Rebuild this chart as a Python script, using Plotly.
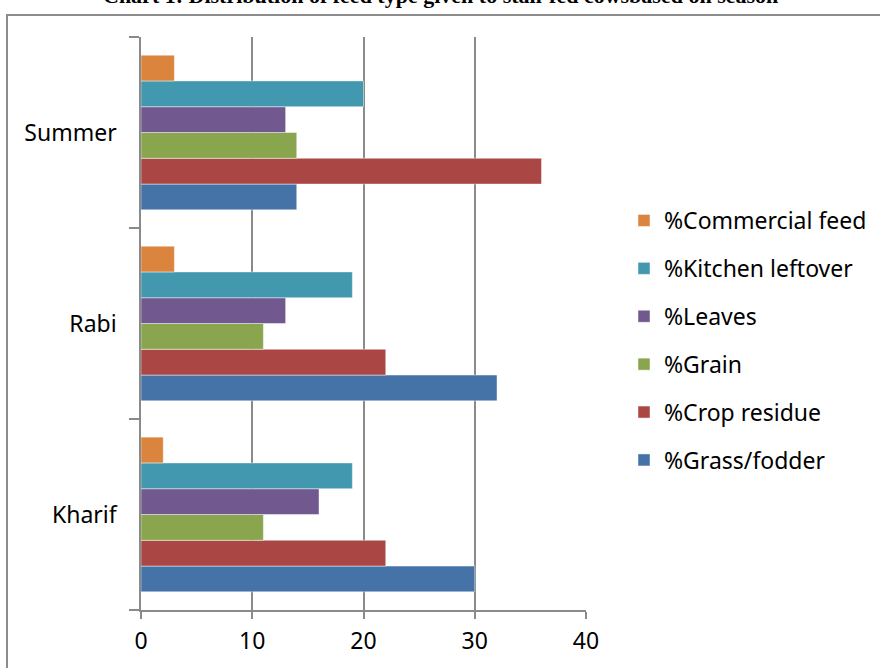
import plotly.graph_objects as go

# Seasons (bottom to top on the category axis)
seasons = ["Kharif", "Rabi", "Summer"]

# Share of each feed type per season (%)
grass_fodder = [30, 32, 14]
crop_residue = [22, 22, 36]
grain = [11, 11, 14]
leaves = [16, 13, 13]
kitchen_leftover = [19, 19, 20]
commercial_feed = [2, 3, 3]

# name, values, colour, legend rank (top of legend first)
series = [
    ("%Grass/fodder", grass_fodder, "#4572A7", 6),
    ("%Crop residue", crop_residue, "#AA4643", 5),
    ("%Grain", grain, "#89A54E", 4),
    ("%Leaves", leaves, "#71588F", 3),
    ("%Kitchen leftover", kitchen_leftover, "#4198AF", 2),
    ("%Commercial feed", commercial_feed, "#DB843D", 1),
]

x_ticks = [0, 10, 20, 30, 40]

W, H = 880, 668
L, R, T, B = 141, 294, 37, 58
PW, PH = W - L - R, H - T - B


def px_x(px):
    return (px - L) / PW


def px_y(py):
    return (H - B - py) / PH


fig = go.Figure()
for name, vals, color, rank in series:
    fig.add_trace(go.Bar(
        y=seasons, x=vals, name=name, orientation="h",
        marker=dict(color=color, line=dict(color="rgba(255,255,255,0.45)", width=1)),
        legendgroup=name, legendrank=rank,
    ))

grid = "#8a8a8a"
font_family = "Noto Sans, Open Sans, DejaVu Sans, sans-serif"

fig.update_layout(
    width=W, height=H,
    margin=dict(l=L, r=R, t=T, b=B, autoexpand=False),
    paper_bgcolor="white", plot_bgcolor="white",
    barmode="group", bargap=0.19, bargroupgap=0,
    font=dict(family=font_family, size=23, color="#000000"),
    showlegend=True,
    legend=dict(
        traceorder="grouped", tracegroupgap=15,
        x=px_x(624), xanchor="left", y=px_y(199), yanchor="top",
        font=dict(family=font_family, size=23, color="#000000"),
        bgcolor="rgba(0,0,0,0)",
    ),
    xaxis=dict(
        range=[0, 40], tickvals=x_ticks, ticktext=[str(v) for v in x_ticks],
        showgrid=True, gridcolor=grid, gridwidth=1.5,
        showline=True, linecolor=grid, linewidth=1.5,
        ticks="outside", ticklen=7, tickcolor=grid, tickwidth=1.5,
        ticklabelstandoff=3, zeroline=False, fixedrange=True,
    ),
    yaxis=dict(
        categoryorder="array", categoryarray=seasons,
        showgrid=False, showline=True, linecolor=grid, linewidth=1.5,
        ticks="outside", tickson="boundaries", ticklen=10, tickcolor=grid, tickwidth=1.5,
        ticklabelstandoff=18, zeroline=False, fixedrange=True,
    ),
)

# Outer chart frame
fig.add_shape(
    type="rect", xref="paper", yref="paper",
    x0=px_x(7), x1=px_x(900), y0=px_y(700), y1=px_y(15),
    line=dict(color="#8c8c8c", width=2), fillcolor="rgba(0,0,0,0)", layer="below",
)

# Caption running above the frame
fig.add_annotation(
    xref="paper", yref="paper", x=px_x(440), y=px_y(10),
    xanchor="center", yanchor="bottom", showarrow=False,
    text="<b>Chart 1: Distribution of feed type given to stall-fed cowsbased on season</b>",
    font=dict(family="Liberation Serif, Times New Roman, serif", size=22, color="#000000"),
)

fig.write_html("out.html")
